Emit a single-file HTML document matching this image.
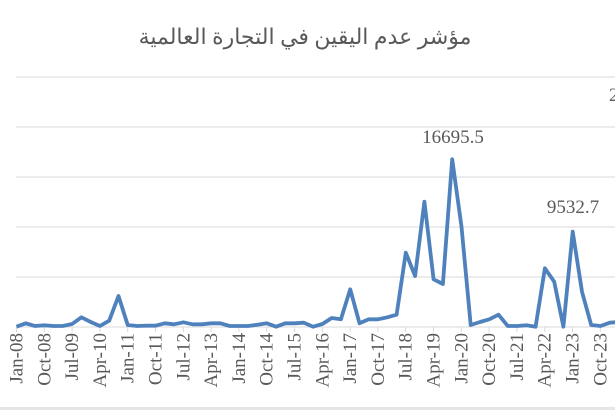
<!DOCTYPE html>
<html><head><meta charset="utf-8"><style>
body{margin:0;background:#fff;width:615px;height:410px;overflow:hidden}
</style></head><body>
<svg width="615" height="410" xmlns="http://www.w3.org/2000/svg" font-family="Liberation Serif, serif" fill="#595959">
<text x="305" y="44" text-anchor="middle" font-size="22" font-family="Liberation Serif, DejaVu Sans, sans-serif" direction="rtl">مؤشر عدم اليقين في التجارة العالمية</text>
<g stroke="#d9d9d9" stroke-width="1">
<line x1="16" y1="77" x2="615" y2="77"/><line x1="16" y1="127" x2="615" y2="127"/><line x1="16" y1="177" x2="615" y2="177"/><line x1="16" y1="227" x2="615" y2="227"/><line x1="16" y1="277" x2="615" y2="277"/><line x1="16" y1="327" x2="615" y2="327"/>
</g>
<g id="ticks" stroke="#d9d9d9"></g>
<polyline id="pl" fill="none" stroke="#4f81bd" stroke-width="3.8" stroke-linejoin="round" points=""/>
<text x="453" y="143" text-anchor="middle" font-size="19">16695.5</text>
<text x="573" y="213" text-anchor="middle" font-size="19">9532.7</text>
<text x="609" y="101" font-size="19">2</text>
<g id="lbl" font-size="19"></g>
<rect x="0" y="407" width="615" height="3" fill="#e6e6e6"/>
</svg>
<script>
var Z=[800,790,798,796,798,798,792,772,786,798,782,708,795,798,797,797,790,793,787,793,793,790,790,798,798,798,794,790,800,790,790,788,800,792,774,778,688,790,778,778,772,764,578,648,425,658,672,298,500,795,786,778,764,798,798,796,800,625,665,800,515,695,795,798,788,786];
var p=Z.map(function(z,i){return (16.5+9.27*i).toFixed(1)+','+(60+z/3).toFixed(1)}).join(' ');
document.getElementById('pl').setAttribute('points',p);
var L=["Jan-08","Oct-08","Jul-09","Apr-10","Jan-11","Oct-11","Jul-12","Apr-13","Jan-14","Oct-14","Jul-15","Apr-16","Jan-17","Oct-17","Jul-18","Apr-19","Jan-20","Oct-20","Jul-21","Apr-22","Jan-23","Oct-23"];
var g=document.getElementById('lbl'),t=document.getElementById('ticks'),ns="http://www.w3.org/2000/svg";
L.forEach(function(s,i){var x=16.5+27.8*i;
var tx=document.createElementNS(ns,'text');tx.setAttribute('transform','translate('+(x+6)+',333) rotate(-90)');tx.setAttribute('text-anchor','end');tx.textContent=s;g.appendChild(tx);
var l=document.createElementNS(ns,'line');l.setAttribute('x1',x);l.setAttribute('x2',x);l.setAttribute('y1',327);l.setAttribute('y2',332);t.appendChild(l);});
</script>
</body></html>
